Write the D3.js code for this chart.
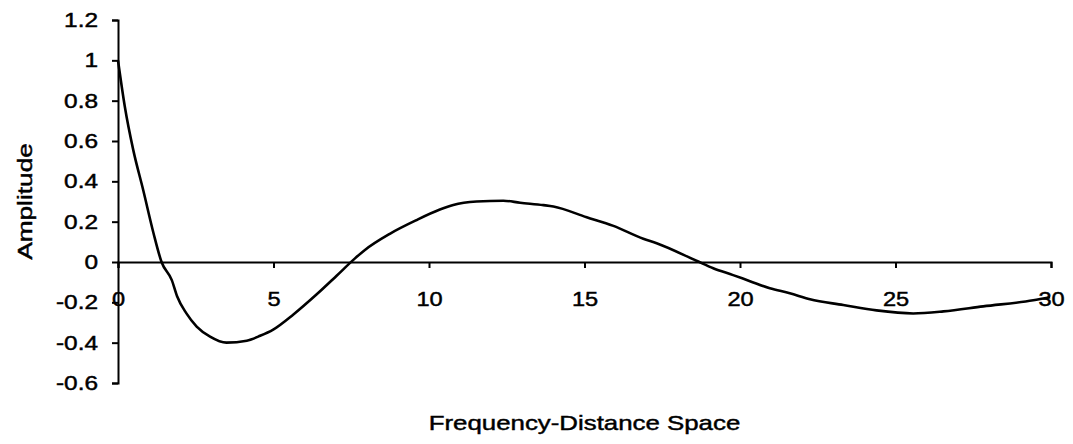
<!DOCTYPE html>
<html>
<head>
<meta charset="utf-8">
<script src="https://cdn.jsdelivr.net/npm/d3@7"></script>
<style>
  html, body { margin: 0; padding: 0; background: #fff; }
  svg { display: block; }
  text { font-family: "Liberation Sans", Arial, sans-serif; fill: #000; stroke: #000; stroke-width: 0.45px; }
</style>
</head>
<body>
<svg id="chart" width="1073" height="444"></svg>
<script>
// ---- data ----
const distance = [0, 0.22, 0.49, 0.81, 1.14, 1.40, 1.73, 1.90, 2.20, 2.53, 2.96, 3.49, 4.14, 4.57, 4.99,
  5.64, 6.39, 7.03, 7.62, 7.94, 8.74, 9.60, 10.35, 10.78, 11.53, 12.39, 12.93, 13.68, 14.00,
  15.07, 15.93, 16.89, 17.32, 18.60, 19.14, 19.78, 20.32, 20.96, 21.60, 22.25, 23.32, 24.39,
  25.57, 26.54, 27.82, 29.43, 29.97];
const amplitude = [1.0, 0.77, 0.556, 0.357, 0.144, 0.0, -0.09, -0.17, -0.255, -0.32, -0.37, -0.40, -0.39, -0.366, -0.335,
  -0.26, -0.16, -0.068, 0.018, 0.06, 0.14, 0.208, 0.26, 0.283, 0.30, 0.304, 0.294, 0.282, 0.275,
  0.222, 0.179, 0.115, 0.093, 0.006, -0.031, -0.065, -0.095, -0.13, -0.155, -0.185, -0.213, -0.24,
  -0.255, -0.245, -0.22, -0.19, -0.175];
const xTicks = [0, 5, 10, 15, 20, 25, 30];
const yTicks = [1.2, 1, 0.8, 0.6, 0.4, 0.2, 0, -0.2, -0.4, -0.6];
const xTitle = "Frequency-Distance Space";
const yTitle = "Amplitude";

// ---- layout ----
const svg = d3.select("#chart");
const mLeft = 118, mRight = 1051, mTop = 20, mBottom = 383;
const x = d3.scaleLinear().domain([0, 30]).range([mLeft, mRight]);
const y = d3.scaleLinear().domain([-0.6, 1.2]).range([mBottom, mTop]);

function widen(sel, k) {
  sel.each(function() {
    const w = this.getComputedTextLength();
    d3.select(this).attr("textLength", w * k).attr("lengthAdjust", "spacingAndGlyphs");
  });
}

// y axis
const gy = svg.append("g")
  .attr("transform", `translate(${mLeft},0)`)
  .call(d3.axisLeft(y).tickValues(yTicks).tickSize(6).tickPadding(14)
    .tickFormat(d => String(+d.toFixed(1))));
gy.selectAll("path, line").attr("stroke", "#000").attr("stroke-width", 2);
gy.selectAll("text").attr("font-size", 20).attr("fill", "#000").attr("font-family", null)
  .call(widen, 1.22);

// x axis at zero
const gx = svg.append("g")
  .attr("transform", `translate(0,${y(0)})`)
  .call(d3.axisBottom(x).tickValues(xTicks).tickSize(6).tickPadding(24).tickFormat(d3.format("d")));
gx.selectAll("path, line").attr("stroke", "#000").attr("stroke-width", 2);
gx.selectAll("text").attr("font-size", 20).attr("fill", "#000").attr("font-family", null)
  .call(widen, 1.18);

// curve
const pts = distance.map((d, i) => [d, amplitude[i]]);
svg.append("path")
  .datum(pts)
  .attr("fill", "none")
  .attr("stroke", "#000")
  .attr("stroke-width", 2.6)
  .attr("stroke-linejoin", "round")
  .attr("d", d3.line().x(d => x(d[0])).y(d => y(d[1])).curve(d3.curveMonotoneX));

// titles
svg.append("text")
  .attr("x", (mLeft + mRight) / 2)
  .attr("y", 430)
  .attr("text-anchor", "middle")
  .attr("font-size", 21)
  .text(xTitle)
  .call(widen, 1.23);

svg.append("text")
  .attr("transform", `translate(32,${(y(1.2) + y(-0.6)) / 2}) rotate(-90)`)
  .attr("text-anchor", "middle")
  .attr("font-size", 21)
  .text(yTitle)
  .call(widen, 1.25);
</script>
</body>
</html>
